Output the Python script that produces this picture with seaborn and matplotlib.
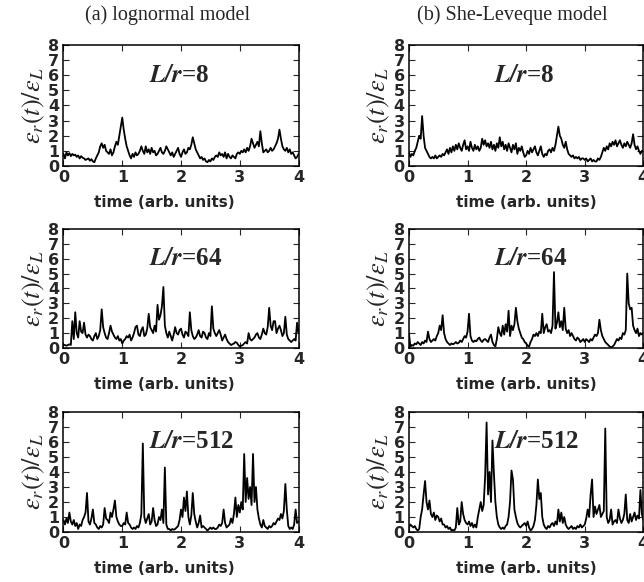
import numpy as np
import pandas as pd
import matplotlib
matplotlib.use("Agg")
import matplotlib.pyplot as plt
import seaborn as sns

# sampling grid of the time axis (dt = 0.025, 0..4)
time = np.linspace(0, 4, 161)

# (a) lognormal model
logn_8 = [0.8, 0.5, 0.9, 0.7, 0.85, 0.65, 0.8, 0.7,
          0.75, 0.6, 0.7, 0.5, 0.65, 0.55, 0.5, 0.4,
          0.45, 0.5, 0.35, 0.45, 0.3, 0.25, 0.5, 0.7,
          0.9, 1.3, 1.5, 1.2, 1.4, 1.0, 0.9, 0.8,
          1.1, 0.7, 0.9, 1.3, 1.6, 1.4, 2.0, 2.6,
          3.2, 2.4, 1.8, 1.3, 1.0, 0.7, 0.5, 0.8,
          0.6, 0.9, 0.7, 0.8, 1.0, 1.3, 1.0, 0.8,
          1.3, 0.9, 1.1, 0.8, 1.2, 0.9, 1.0, 0.7,
          0.8, 1.0, 1.2, 0.9, 0.8, 1.0, 1.3, 1.1,
          0.9, 0.7, 0.9, 0.6, 0.8, 1.0, 1.2, 0.8,
          0.6, 0.9, 1.1, 0.8, 0.9, 1.2, 1.1, 1.4,
          1.9, 1.5, 1.1, 0.9, 0.7, 0.5, 0.6, 0.4,
          0.5, 0.3, 0.25, 0.4, 0.3, 0.5, 0.4, 0.6,
          0.7, 0.6, 0.9, 0.7, 0.8, 0.6, 0.9, 0.5,
          0.8, 0.6, 0.5, 0.7, 0.6, 0.5, 0.8, 0.9,
          0.8, 1.0, 0.9, 1.1, 0.9, 1.2, 1.0, 1.3,
          1.8, 1.5, 1.2, 1.4, 1.6, 1.3, 2.3, 1.5,
          0.9, 1.0, 1.1, 0.9, 1.0, 1.2, 1.0, 1.1,
          1.3, 1.5, 1.8, 2.4, 1.8, 1.3, 1.1, 1.0,
          1.2, 0.9, 1.1, 0.8, 0.9, 0.7, 0.5, 0.6,
          0.8]

logn_64 = [0.2, 0.2, 0.15, 0.2, 0.25, 0.2, 1.8, 0.6,
           2.4, 1.0, 0.7, 1.8, 1.1, 1.0, 1.7, 0.9,
           0.7, 0.9, 0.8, 0.6, 0.5, 0.8, 1.0, 0.6,
           0.8, 1.2, 2.6, 1.4, 1.0, 0.7, 0.6, 1.0,
           1.5, 1.1, 0.9, 0.7, 0.6, 0.8, 0.5, 0.6,
           0.3, 0.5, 0.6, 0.8, 0.7, 0.9, 0.5, 0.7,
           1.0, 1.4, 1.5, 0.9, 0.8, 1.2, 1.4, 0.8,
           0.9, 1.3, 2.3, 1.4, 1.2, 1.0, 1.5, 1.1,
           2.9, 1.9, 2.2, 2.8, 4.1, 1.5, 1.0, 0.7,
           1.1, 0.8, 0.5, 0.9, 1.4, 1.0, 0.9, 1.2,
           1.3, 0.9, 0.7, 1.1, 1.0, 0.8, 2.4, 1.2,
           0.8, 0.6, 0.7, 0.9, 1.2, 0.8, 0.7, 1.1,
           1.0, 0.7, 0.6, 1.0, 0.8, 2.8, 1.3, 1.0,
           0.8, 1.0, 1.2, 0.9, 0.5, 0.7, 0.9, 0.6,
           0.4, 0.3, 0.2, 0.25, 0.3, 0.4, 0.35, 0.2,
           0.1, 0.15, 0.2, 0.3, 0.4, 0.3, 1.0, 0.6,
           0.5, 0.6, 0.7, 0.9, 1.0, 0.7, 0.6, 0.9,
           1.3, 1.0, 0.9, 1.4, 2.7, 1.5, 1.2, 1.8,
           1.8, 1.0, 1.3, 1.5, 1.2, 0.8, 1.0, 2.1,
           0.9, 0.6, 0.5, 0.4, 0.5, 0.6, 0.5, 1.7,
           1.0]

logn_512 = [0.8, 0.5, 0.9, 0.6, 1.3, 0.7, 0.5, 0.8,
            0.4, 0.6, 0.2, 0.5, 0.4, 0.8, 1.0, 1.3,
            2.6, 0.7, 0.5, 0.9, 1.5, 0.6, 0.5, 0.3,
            0.2, 0.4, 0.3, 0.5, 1.6, 0.9, 0.8, 0.6,
            1.3, 1.0, 1.5, 2.1, 1.0, 0.7, 0.5, 0.4,
            0.4, 0.6, 0.5, 1.3, 0.6, 0.5, 0.3, 0.2,
            0.3, 0.2, 0.4, 0.3, 0.6, 1.2, 5.9, 1.0,
            0.6, 0.9, 1.2, 0.5, 0.7, 1.6, 0.8, 0.4,
            0.5, 1.0, 0.8, 1.5, 0.6, 4.3, 0.5, 0.2,
            0.2, 0.1, 0.2, 0.15, 0.2, 0.3, 0.4, 0.8,
            1.5, 1.0, 2.3, 1.4, 2.7, 1.0, 0.5, 1.1,
            2.6, 1.2, 0.7, 0.3, 0.6, 1.1, 0.3, 0.4,
            0.3, 0.2, 0.1, 0.2, 0.3, 0.2, 0.3, 0.2,
            0.2, 0.3, 0.5, 0.4, 0.6, 1.5, 0.6, 0.3,
            0.4, 0.5, 0.9, 0.6, 1.2, 2.3, 1.0, 1.8,
            1.3, 2.0, 1.5, 5.2, 2.0, 3.6, 2.2, 3.0,
            1.8, 5.2, 2.0, 3.0, 1.5, 0.9, 0.5, 0.3,
            0.8, 0.4, 0.3, 0.2, 0.4, 0.3, 0.4, 0.6,
            0.5, 0.7, 0.9, 0.8, 1.2, 0.9, 1.4, 3.2,
            1.5, 0.4, 0.2, 0.3, 0.2, 0.5, 1.5, 0.6,
            0.7]

# (b) She-Leveque model
sl_8 = [0.9, 0.6, 0.8, 0.7, 1.0, 1.2, 1.6, 2.0,
        1.8, 3.3, 2.0, 1.2, 1.0, 0.8, 0.6, 0.5,
        0.6, 0.5, 0.7, 0.5, 0.6, 0.7, 0.6, 0.8,
        0.7, 0.9, 1.1, 0.8, 1.2, 0.9, 1.3, 1.0,
        1.4, 1.1, 1.5, 1.2, 1.0, 1.4, 1.7, 1.1,
        1.3, 1.0, 1.6, 1.2, 1.0, 1.4, 1.1, 1.3,
        1.0, 1.2, 1.8, 1.4, 1.7, 1.3, 1.5, 1.2,
        1.6, 1.1, 1.4, 1.0, 1.5, 1.2, 1.9, 1.3,
        1.6, 1.1, 1.4, 1.0, 1.5, 1.2, 0.9, 1.4,
        1.1, 1.5, 0.8, 1.2, 1.0, 1.3, 0.9, 0.6,
        0.7, 1.0, 0.8, 1.2, 0.9, 1.1, 1.3, 0.9,
        0.7, 1.0, 1.3, 0.8, 0.6, 0.8, 0.7, 1.0,
        1.1, 0.9, 1.2, 1.0, 1.4, 2.0, 2.6, 2.0,
        1.8, 1.4, 1.2, 1.6, 1.1, 0.8, 0.7, 0.6,
        0.7, 0.5, 0.6, 0.5, 0.6, 0.4, 0.5, 0.5,
        0.4, 0.5, 0.3, 0.4, 0.5, 0.3, 0.4, 0.3,
        0.3, 0.5, 0.4, 0.6, 0.9, 1.2, 1.0, 1.3,
        1.1, 1.5, 1.3, 1.6, 1.4, 1.7, 1.3, 1.5,
        1.7, 1.4, 1.2, 1.5, 1.3, 1.6, 1.4, 1.2,
        1.5, 2.1, 1.4, 1.1, 1.3, 1.0, 0.8, 1.0,
        1.0]

sl_64 = [1.0, 0.1, 0.2, 0.15, 0.3, 0.25, 0.4, 0.3,
         0.2, 0.4, 0.3, 0.5, 0.4, 1.1, 0.6, 0.4,
         0.5, 0.6, 0.5, 0.8, 1.0, 1.5, 1.2, 2.2,
         1.0, 0.6, 0.4, 0.3, 0.2, 0.3, 0.25, 0.3,
         0.4, 0.3, 0.35, 0.5, 0.4, 0.6, 0.8, 0.7,
         1.1, 2.3, 0.8, 0.5, 0.4, 0.5, 0.45, 0.6,
         0.7, 0.5, 0.4, 0.55, 0.6, 0.5, 0.4, 0.7,
         0.9, 0.4, 0.2, 0.1, 0.6, 1.4, 1.0, 0.8,
         1.5, 0.9, 1.6, 1.1, 2.5, 0.8, 1.5, 1.2,
         1.6, 2.7, 1.8, 1.3, 1.0, 0.7, 0.6, 0.4,
         0.3, 0.15, 0.1, 0.4, 0.6, 0.9, 0.8, 1.0,
         0.8, 1.1, 1.0, 2.3, 1.0, 1.4, 1.6, 1.1,
         1.2, 1.0, 1.5, 5.1, 1.3, 1.7, 2.4, 1.4,
         1.8, 1.2, 2.7, 1.3, 1.0, 1.2, 0.8, 1.0,
         0.8, 0.6, 0.5, 0.7, 0.6, 0.4, 0.5, 0.6,
         0.4, 0.6, 0.5, 0.4, 0.6, 0.5, 0.7, 0.9,
         0.8, 1.0, 1.9, 1.2, 0.8, 0.6, 0.4, 0.3,
         0.2, 0.1, 0.05, 0.1, 0.2, 0.4, 0.6, 0.5,
         0.7, 0.6, 1.0, 0.9, 1.2, 5.0, 3.0, 2.6,
         2.7, 1.5, 1.2, 1.0, 1.3, 0.8, 1.0, 0.9,
         1.0]

sl_512 = [0.3, 0.5, 0.4, 0.3, 0.4, 0.2, 0.1, 0.2,
          1.0, 1.5, 2.5, 3.4, 2.0, 1.5, 2.1, 1.2,
          1.0, 1.3, 0.8, 1.1, 1.0, 0.7, 0.9, 0.5,
          0.5, 0.3, 0.4, 0.2, 0.3, 0.1, 0.15, 0.1,
          0.3, 1.6, 0.5, 0.7, 2.0, 1.2, 0.8, 0.6,
          0.5, 0.7, 0.4, 0.6, 0.3, 0.5, 0.3, 1.0,
          1.5, 2.0, 1.4, 1.8, 3.7, 7.3, 2.5, 4.0,
          2.0, 6.1, 3.9, 2.0, 1.0, 0.5, 0.3, 0.2,
          0.3, 0.2, 0.4, 0.5, 1.0, 2.0, 4.1, 3.5,
          1.5, 1.0, 0.6, 0.4, 0.3, 0.4, 0.5, 0.6,
          0.4, 0.7, 0.3, 0.1, 0.2, 0.4, 0.8, 1.8,
          3.5, 2.2, 2.6, 1.0, 0.5, 0.3, 0.2, 0.4,
          0.3, 0.5, 0.6, 0.4, 0.7, 0.5, 1.5, 0.7,
          1.3, 0.6, 1.0, 0.5, 0.3, 0.2, 0.3, 0.4,
          0.2, 0.3, 0.2, 0.4, 0.3, 0.5, 0.3, 0.4,
          0.5, 0.9, 1.5, 1.0, 2.5, 3.5, 1.0, 1.7,
          1.2, 1.5, 1.8, 1.0, 1.2, 1.4, 6.9, 1.0,
          0.6, 0.8, 1.5, 0.5, 0.7, 0.8, 0.6, 1.5,
          0.9, 0.6, 0.8, 1.2, 2.5, 0.8, 0.6, 1.2,
          0.7, 1.0, 1.3, 0.8, 1.1, 0.9, 2.8, 1.2,
          0.8]

ratios = ["8", "64", "512"]
model_titles = ["(a) lognormal model", "(b) She-Leveque model"]
series = {("a", "8"): logn_8, ("a", "64"): logn_64, ("a", "512"): logn_512,
          ("b", "8"): sl_8, ("b", "64"): sl_64, ("b", "512"): sl_512}

frames = []
for (model, ratio), vals in series.items():
    frames.append(pd.DataFrame({"time": time, "eps": vals,
                                "model": model, "ratio": ratio}))
df = pd.concat(frames, ignore_index=True)

sns.set_style("ticks")
plt.rcParams["font.family"] = ["DejaVu Sans"]
plt.rcParams["mathtext.fontset"] = "stix"
plt.rcParams["xtick.direction"] = "in"
plt.rcParams["ytick.direction"] = "in"
plt.rcParams["xtick.top"] = True
plt.rcParams["ytick.right"] = True

fig = plt.figure(figsize=(6.44, 5.82), dpi=100)

# axes boxes in figure fractions (left column, right column; three rows)
col_x = [0.0986, 0.635]
col_w = [0.365, 0.364]
row_y = [0.7148, 0.4021, 0.0859]
row_h = [0.2079, 0.2045, 0.2062]

for c, model in enumerate(["a", "b"]):
    for r, ratio in enumerate(ratios):
        ax = fig.add_axes([col_x[c], row_y[r], col_w[c], row_h[r]])
        sub = df[(df.model == model) & (df.ratio == ratio)]
        sns.lineplot(data=sub, x="time", y="eps", ax=ax, color="black",
                     lw=1.3, estimator=None)
        ax.set_xlim(0, 4)
        ax.set_ylim(0, 8)
        ax.set_xticks([0, 1, 2, 3, 4])
        ax.set_yticks(range(9))
        ax.tick_params(length=4, width=0.8, pad=3, labelsize=11.5)
        for lab in ax.get_xticklabels() + ax.get_yticklabels():
            lab.set_fontweight("bold")
        for sp in ax.spines.values():
            sp.set_linewidth(1.1)
            sp.set_color("black")
        ax.set_xlabel("time (arb. units)", fontsize=11, fontweight="bold",
                      labelpad=3)
        ax.xaxis.set_label_coords(0.43 if c == 0 else 0.5, -0.24)
        ax.set_ylabel(r"$\varepsilon_r(t)/\varepsilon_L$", fontsize=19,
                      labelpad=1)
        ax.text(1.45, 6.0, r"$\mathbfit{L/r}$=" + ratio, fontsize=18,
                va="center", ha="left", family="Liberation Serif",
                fontweight="bold")

fig.text(168 / 644, 1 - 15 / 582, model_titles[0], ha="center", va="center",
         fontsize=14.5, family="Liberation Serif")
fig.text(512 / 644, 1 - 15 / 582, model_titles[1], ha="center", va="center",
         fontsize=14.5, family="Liberation Serif")

fig.savefig("out.png", dpi=100)
